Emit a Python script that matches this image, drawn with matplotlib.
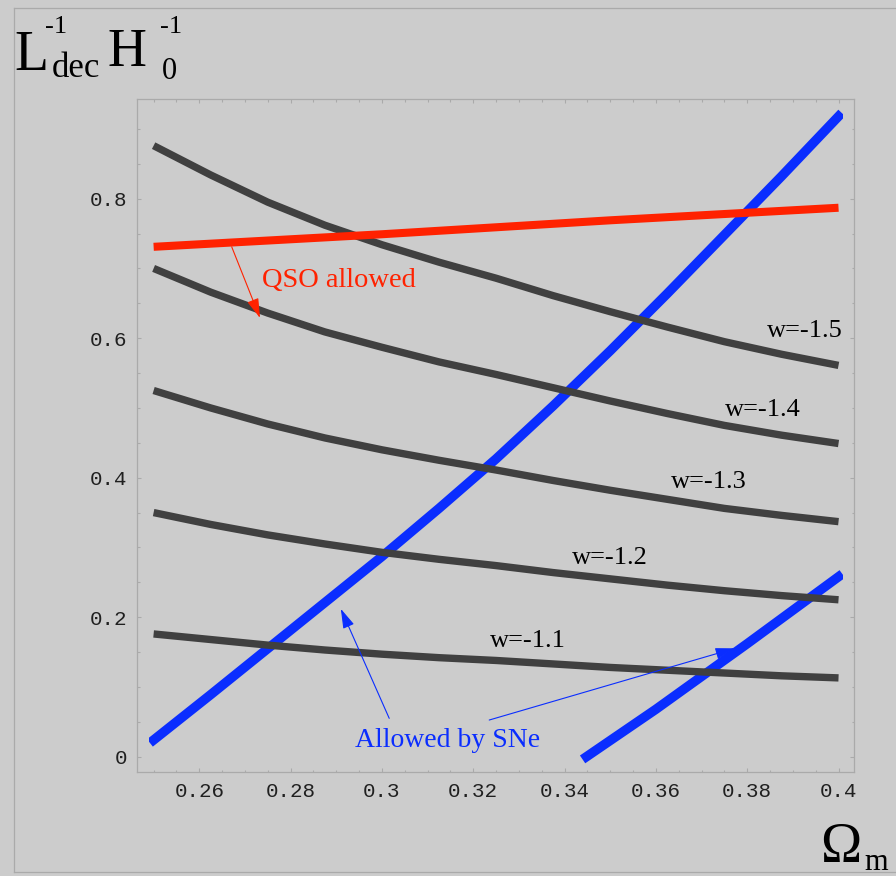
import matplotlib
matplotlib.use("Agg")
import matplotlib.pyplot as plt
from matplotlib.patches import Rectangle
from matplotlib.lines import Line2D
from matplotlib.ticker import MultipleLocator, FixedLocator, FixedFormatter

# --- data ------------------------------------------------------------------
omega = [0.25, 0.2625, 0.275, 0.2875, 0.30, 0.3125, 0.325,
         0.3375, 0.35, 0.3625, 0.375, 0.3875, 0.40]
w15 = [0.876, 0.834, 0.795, 0.762, 0.734, 0.709, 0.686,
       0.661, 0.638, 0.616, 0.595, 0.577, 0.561]
w14 = [0.700, 0.666, 0.636, 0.609, 0.587, 0.566, 0.548,
       0.529, 0.510, 0.492, 0.475, 0.461, 0.449]
w13 = [0.525, 0.500, 0.477, 0.457, 0.440, 0.425, 0.411,
       0.396, 0.382, 0.369, 0.356, 0.346, 0.337]
w12 = [0.350, 0.333, 0.318, 0.305, 0.293, 0.283, 0.274,
       0.264, 0.255, 0.246, 0.238, 0.231, 0.225]
w11 = [0.176, 0.168, 0.160, 0.153, 0.147, 0.142, 0.138,
       0.133, 0.128, 0.124, 0.120, 0.116, 0.113]
w_labels = ["w=-1.5", "w=-1.4", "w=-1.3", "w=-1.2", "w=-1.1"]
w_label_pos = [(0.3843, 0.602), (0.3751, 0.488), (0.3632, 0.385),
               (0.3416, 0.276), (0.3237, 0.158)]

qso_omega = [0.25, 0.275, 0.30, 0.325, 0.35, 0.375, 0.40]
qso = [0.731, 0.740, 0.749, 0.759, 0.769, 0.778, 0.787]

sne1_omega = omega
sne1 = [0.024, 0.089, 0.155, 0.221, 0.287, 0.356, 0.427,
        0.503, 0.582, 0.664, 0.748, 0.832, 0.918]
sne2_omega = [0.3448, 0.36, 0.38, 0.40]
sne2 = [0.0, 0.068, 0.162, 0.258]

x_ticks = [0.26, 0.28, 0.30, 0.32, 0.34, 0.36, 0.38, 0.40]
x_ticklabels = ["0.26", "0.28", "0.3", "0.32", "0.34", "0.36", "0.38", "0.4"]
y_ticks = [0.0, 0.2, 0.4, 0.6, 0.8]
y_ticklabels = ["0", "0.2", "0.4", "0.6", "0.8"]

BG = "#cccccc"
FRAME = "#aaaaaa"
GRAY = "#404040"
RED = "#ff2200"
BLUE = "#0a2dff"
SERIF = "Liberation Serif"
MONO = "Liberation Mono"

W, H = 896, 876


def fx(px):
    return px / W


def fy(py):
    return 1 - py / H


fig = plt.figure(figsize=(W / 100, H / 100), dpi=100, facecolor=BG)
ax = fig.add_axes([fx(137), fy(772), (854 - 137) / W, (772 - 99) / H])
ax.set_facecolor(BG)
ax.set_xlim(0.24636, 0.40339)
ax.set_ylim(-0.0219, 0.9429)

# SNe bands (bottom), clipped at the plot range in x
clip = Rectangle((0.2490, -1), 0.4009 - 0.2490, 3, transform=ax.transData)
for xs, ys in [(sne1_omega, sne1), (sne2_omega, sne2)]:
    ln, = ax.plot(xs, ys, color=BLUE, lw=6.8, solid_capstyle="projecting",
                  solid_joinstyle="round", zorder=2)
    ln.set_clip_path(clip)

for ys in [w15, w14, w13, w12, w11]:
    ax.plot(omega, ys, color=GRAY, lw=5.3, solid_capstyle="butt",
            solid_joinstyle="round", zorder=3)

ax.plot(qso_omega, qso, color=RED, lw=5.8, solid_capstyle="butt",
        solid_joinstyle="round", zorder=4)

for lab, (x, y) in zip(w_labels, w_label_pos):
    ax.text(x, y, lab, family=SERIF, fontsize=19, color="black",
            va="baseline", ha="left", zorder=5)

arrow_kw = dict(arrowstyle="-|>,head_length=0.6,head_width=0.18",
                mutation_scale=20, lw=0.8, shrinkA=0, shrinkB=0)
ax.text(0.2737, 0.673, "QSO allowed", family=SERIF, fontsize=20.5,
        color=RED, va="baseline", ha="left", zorder=5)
ax.annotate("", xy=(0.2733, 0.629), xytext=(0.2671, 0.731),
            arrowprops=dict(color=RED, **arrow_kw), zorder=5)

ax.text(0.2941, 0.0143, "Allowed by SNe", family=SERIF, fontsize=20,
        color=BLUE, va="baseline", ha="left", zorder=5)
ax.annotate("", xy=(0.2910, 0.212), xytext=(0.3016, 0.055),
            arrowprops=dict(color=BLUE, **arrow_kw), zorder=5)
ax.annotate("", xy=(0.3773, 0.1554), xytext=(0.3235, 0.0526),
            arrowprops=dict(color=BLUE, **arrow_kw), zorder=5)

# ticks
ax.xaxis.set_major_locator(FixedLocator(x_ticks))
ax.xaxis.set_major_formatter(FixedFormatter(x_ticklabels))
ax.xaxis.set_minor_locator(MultipleLocator(0.005))
ax.yaxis.set_major_locator(FixedLocator(y_ticks))
ax.yaxis.set_major_formatter(FixedFormatter(y_ticklabels))
ax.yaxis.set_minor_locator(MultipleLocator(0.05))
ax.tick_params(which="both", direction="in", top=True, right=True,
               color=FRAME, width=0.8)
ax.tick_params(which="major", length=3.2, pad=7, labelsize=15)
ax.tick_params(which="minor", length=1.8)
for lab in ax.get_xticklabels() + ax.get_yticklabels():
    lab.set_family(MONO)
    lab.set_color("#202020")
for sp in ax.spines.values():
    sp.set_color(FRAME)
    sp.set_linewidth(0.9)

# outer frame (left, top, bottom)
fig.add_artist(Line2D([fx(14), fx(14)], [fy(8), fy(872)], color=FRAME, lw=0.9))
fig.add_artist(Line2D([fx(14), 1.0], [fy(8), fy(8)], color=FRAME, lw=0.9))
fig.add_artist(Line2D([fx(14), 1.0], [fy(872), fy(872)], color=FRAME, lw=0.9))

# axis titles, built from pieces
pieces = [
    ("L", 14, 70, 40),
    ("-1", 45, 33, 19),
    ("dec", 52, 77, 25),
    ("H", 107, 66, 39),
    ("-1", 160, 33, 19),
    ("0", 162, 79, 22),
    ("\u03a9", 820, 862, 40),
    ("m", 864, 870, 22),
]
for s, px, py, size in pieces:
    fig.text(fx(px), fy(py), s, family=SERIF, fontsize=size, color="black",
             va="baseline", ha="left")

fig.savefig("out.png", dpi=100, facecolor=BG)
